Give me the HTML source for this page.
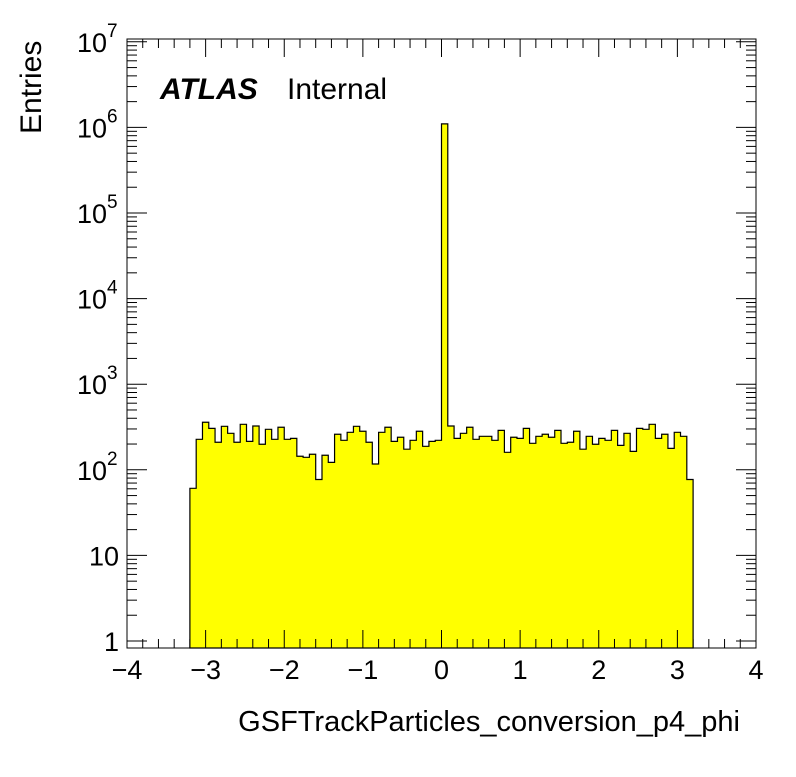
<!DOCTYPE html>
<html><head><meta charset="utf-8"><style>
body{margin:0;background:#fff;}
svg text{font-family:"Liberation Sans",Arial,sans-serif;fill:#000;}
</style></head><body>
<svg id="chart" width="796" height="772" xmlns="http://www.w3.org/2000/svg">
<rect width="796" height="772" fill="#fff"/>
<g id="bars"></g>
<g id="axes"></g>
<rect x="127" y="39" width="629" height="609" fill="none" stroke="#000" stroke-width="1"/>
<text x="160" y="99" font-size="30" font-weight="bold" font-style="italic">ATLAS</text>
<text x="287" y="99" font-size="30">Internal</text>
<text transform="translate(41,134) rotate(-90)" font-size="30">Entries</text>
<text x="740" y="731" font-size="29" text-anchor="end">GSFTrackParticles_conversion_p4_phi</text>
</svg>
<script>
const binLow = -3.2;
const binWidth = 0.08;
const counts = [60.8,227,359,305,210,322,267,210,340,215,325,199,297,227,314,227,233,144,140,152,77,148,122,260,221,274,322,282,210,117,274,314,215,240,174,221,282,188,215,221,
1.1e6,
325,233,267,314,227,246,246,221,289,160,240,233,305,204,246,260,240,289,204,210,282,174,246,199,233,221,289,193,267,164,305,297,340,233,260,178,274,246,77];
const xTicks = [-4,-3,-2,-1,0,1,2,3,4];
const xTickLabels = ["\u22124","\u22123","\u22122","\u22121","0","1","2","3","4"];
const yDecades = [0,1,2,3,4,5,6,7];

const NS="http://www.w3.org/2000/svg";
const L=127,R=756,T=39,B=648;
const X=v=>L+(v+4)/8*(R-L);
const Y=v=>641-Math.log10(v)*85.6;
const bars=document.getElementById('bars'), axes=document.getElementById('axes');
function mk(tag,a,parent){const e=document.createElementNS(NS,tag);for(const k in a)e.setAttribute(k,a[k]);parent.appendChild(e);return e;}

let d="M"+X(binLow)+","+B;
counts.forEach((c,i)=>{
  const x0=X(binLow+i*binWidth), x1=X(binLow+(i+1)*binWidth), y=Y(c);
  d+=" L"+x0+","+y+" L"+x1+","+y;
});
d+=" L"+X(binLow+counts.length*binWidth)+","+B+" Z";
const p=mk('path',{d:d,fill:'#ffff00',stroke:'#000','stroke-width':1.2},bars);



for(let v=-4;v<=4.001;v+=0.2){
  const maj=Math.abs(v-Math.round(v))<1e-6, len=maj?18:9, x=X(v);
  const t1=mk('line',{x1:x,x2:x,y1:B,y2:B-len,stroke:'#000'},axes);
  
  
  const t2=mk('line',{x1:x,x2:x,y1:T,y2:T+len,stroke:'#000'},axes);
  
  
}
xTicks.forEach((v,i)=>{
  const t=mk('text',{x:X(v),y:679,'font-size':27,'text-anchor':'middle'},axes);
  t.textContent=xTickLabels[i];
  
  
});
yDecades.forEach(dec=>{
  for(let m=1;m<=9;m++){
    const v=m*Math.pow(10,dec), y=Y(v);
    if(y<T||y>B)continue;
    const len=m===1?20:10;
    const a=mk('line',{x1:L,x2:L+len,y1:y,y2:y,stroke:'#000'},axes);
    
    
    const b=mk('line',{x1:R,x2:R-len,y1:y,y2:y,stroke:'#000'},axes);
    
    
  }
  const y=Y(Math.pow(10,dec));
  const t=mk('text',{x:dec>=2?107:119,y:y+10,'font-size':27,'text-anchor':'end'},axes);
  
  
  if(dec===0)t.textContent="1";
  else if(dec===1)t.textContent="10";
  else{
    t.textContent="10";
    const s=mk('text',{x:107,y:y-5,'font-size':19,'text-anchor':'start'},axes);
    s.textContent=String(dec);
    
    
  }
});
</script>
</body></html>
